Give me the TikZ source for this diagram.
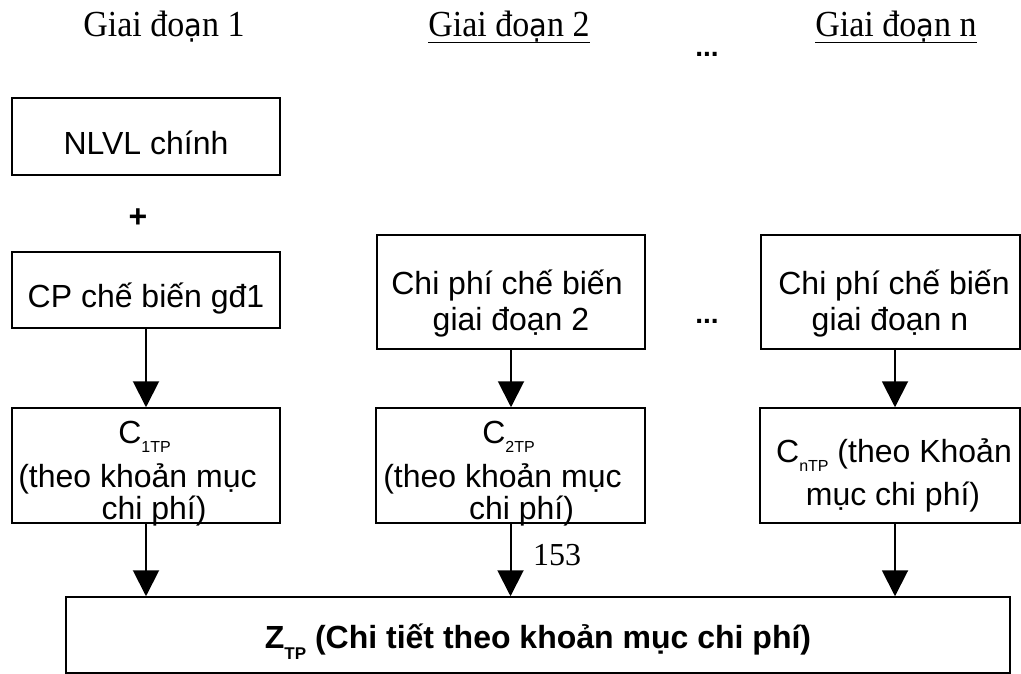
\documentclass[tikz,border=0pt]{standalone}
\usepackage{fontspec}
\setmainfont{Liberation Serif}
\newfontfamily\sans{Liberation Sans}
\newfontfamily\dv[Scale=0.85]{DejaVu Sans}
\usetikzlibrary{arrows.meta}

% subscript lowered below the baseline, as in the cost symbols
\newcommand\lowsub[1]{\raisebox{-9pt}{\fontsize{16}{16}\selectfont #1}}
% slightly tall heading text
\newcommand\tallhead[1]{\scalebox{1}[1.08]{#1}}

\begin{document}
\begin{tikzpicture}[x=1pt,y=-1pt,
  box/.style={draw=black, line width=1.5pt, rectangle, inner sep=0pt},
  txt/.style={anchor=base, inner sep=0pt, font=\sans\fontsize{32}{36}\selectfont},
  btxt/.style={anchor=base, inner sep=0pt, font=\sans\bfseries\fontsize{32}{36}\selectfont},
  dots/.style={anchor=base, inner sep=0pt, font=\sans\bfseries\fontsize{28}{32}\selectfont},
  head/.style={anchor=base, inner sep=0pt, font=\fontsize{34}{40}\selectfont},
  uline/.style={line width=1.5pt},
  arr/.style={line width=2pt, -{Triangle[width=26pt,length=26pt]}},
]
\useasboundingbox (0,0) rectangle (1021,674);

% stage headings
\node[head] (h1) at (164,37) {\tallhead{Giai đo{\dv ạ}n 1}};
\node[head] (h2) at (509,37) {\tallhead{Giai đo{\dv ạ}n 2}};
\node[head] (hn) at (896,37) {\tallhead{Giai đo{\dv ạ}n n}};
\draw[uline] ([yshift=-5.5pt]h2.base west) -- ([yshift=-5.5pt]h2.base east);
\draw[uline] ([yshift=-5.5pt]hn.base west) -- ([yshift=-5.5pt]hn.base east);
\node[dots] (dtop) at (707,57) {...};

% boxes
\node[box, minimum width=268pt, minimum height=77pt]  (nlvl) at (146,136.5) {};
\node[box, minimum width=268pt, minimum height=76pt]  (cp1)  at (146,290) {};
\node[box, minimum width=268pt, minimum height=114pt] (cp2)  at (511,292) {};
\node[box, minimum width=259pt, minimum height=114pt] (cpn)  at (890.5,292) {};
\node[box, minimum width=268pt, minimum height=115pt] (c1)   at (146,465.5) {};
\node[box, minimum width=269pt, minimum height=115pt] (c2)   at (510.5,465.5) {};
\node[box, minimum width=260pt, minimum height=115pt] (cn)   at (890,465.5) {};
\node[box, minimum width=944pt, minimum height=76pt]  (z)    at (538,635) {};

% box texts
\node[txt] (tnlvl) at (146,155) {NLVL chính};
\node[btxt] (plus) at (138,227) {+};
\node[txt] (tcp1) at (146,307) {CP chế biến gđ1};

\node[txt] (tcp2a) at (507,294) {Chi phí chế biến};
\node[txt] (tcp2b) at (511,330) {giai đoạn 2};
\node[dots] (dmid) at (707,323) {...};
\node[txt] (tcpna) at (894,294) {Chi phí chế biến};
\node[txt] (tcpnb) at (890,330) {giai đoạn n};

\node[txt] (tc1a) at (144.5,443) {C\lowsub{1TP}};
\node[txt] (tc1b) at (137.5,487) {(theo khoản mục};
\node[txt] (tc1c) at (154,519) {chi phí)};

\node[txt] (tc2a) at (508.5,443) {C\lowsub{2TP}};
\node[txt] (tc2b) at (502.5,487) {(theo khoản mục};
\node[txt] (tc2c) at (521.5,519) {chi phí)};

\node[txt] (tcna) at (894,462) {C\lowsub{nTP} (theo Khoản};
\node[txt] (tcnb) at (893,505) {mục chi phí)};

\node[btxt] (tz) at (538,648) {Z\raisebox{-11pt}{\fontsize{17}{17}\selectfont TP} (Chi tiết theo khoản mục chi phí)};

\node[anchor=base, inner sep=0pt, font=\fontsize{32}{36}\selectfont] (n153) at (557,565) {153};

% connectors
\draw[arr] (cp1.south) -- (c1.north);
\draw[arr] (cp2.south) -- (cp2.south |- c2.north);
\draw[arr] ([xshift=4.5pt]cpn.south) -- ([xshift=5pt]cn.north);
\draw[arr] (c1.south) -- (c1.south |- z.north);
\draw[arr] (c2.south) -- (c2.south |- z.north);
\draw[arr] ([xshift=5pt]cn.south) -- ([xshift=5pt]cn.south |- z.north);
\end{tikzpicture}
\end{document}
